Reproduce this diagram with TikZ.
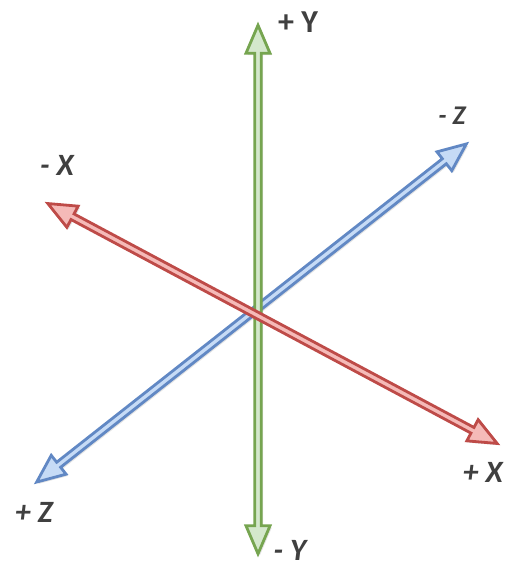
\documentclass[tikz,border=0pt]{standalone}
\usepackage{fontspec}
\setmainfont{Carlito}
\usetikzlibrary{shadows}
\definecolor{gB}{HTML}{76A550}
\definecolor{gF}{HTML}{D4E8CC}
\definecolor{rB}{HTML}{BE4B48}
\definecolor{rF}{HTML}{F5BAB8}
\definecolor{bB}{HTML}{6188C4}
\definecolor{bF}{HTML}{C6DBF6}
\definecolor{txt}{HTML}{404040}
\tikzset{
  axisline/.style={line width=2.8pt, line join=miter,
    drop shadow={opacity=0.22, shadow xshift=1.8pt, shadow yshift=-1.8pt}},
  lbl/.style={text=txt, inner sep=0pt, font=\bfseries\itshape\fontsize{31}{31}\selectfont},
  lblup/.style={text=txt, inner sep=0pt, font=\bfseries\fontsize{32}{32}\selectfont},
}
\newcommand{\axisshape}[1]{%
  (-#1,0) -- (-#1+28,12) -- (-#1+28,3.2) -- (#1-28,3.2) -- (#1-28,12) -- (#1,0)
  -- (#1-28,-12) -- (#1-28,-3.2) -- (-#1+28,-3.2) -- (-#1+28,-12) -- cycle}
\begin{document}
\begin{tikzpicture}[x=1pt,y=-1pt]
\useasboundingbox (0,0) rectangle (513,576);
\coordinate (cb) at (251.5,313);
\coordinate (cg) at (258,289.5);
\coordinate (cr) at (272.5,323.5);
% blue Z axis
\begin{scope}[shift={(cb)}, rotate=38.2]
  \draw[axisline, draw=bB, fill=bF] \axisshape{273.4};
\end{scope}
% green Y axis
\begin{scope}[shift={(cg)}, rotate=90]
  \draw[axisline, draw=gB, fill=gF] \axisshape{264.3};
\end{scope}
% red X axis
\begin{scope}[shift={(cr)}, rotate=-28.1]
  \draw[axisline, draw=rB, fill=rF] \axisshape{254.7};
\end{scope}
% labels
\node[lblup] (py) at (298,22) {+ Y};
\node[lbl] (my) at (290,550) {- Y};
\node[lbl, font=\bfseries\itshape\fontsize{27}{27}\selectfont] (mz) at (452,116) {- Z};
\node[lbl] (pz) at (34,512) {+ Z};
\node[lbl] (mx) at (57,165) {- X};
\node[lbl] (px) at (483,472) {+ X};
\end{tikzpicture}
\end{document}
